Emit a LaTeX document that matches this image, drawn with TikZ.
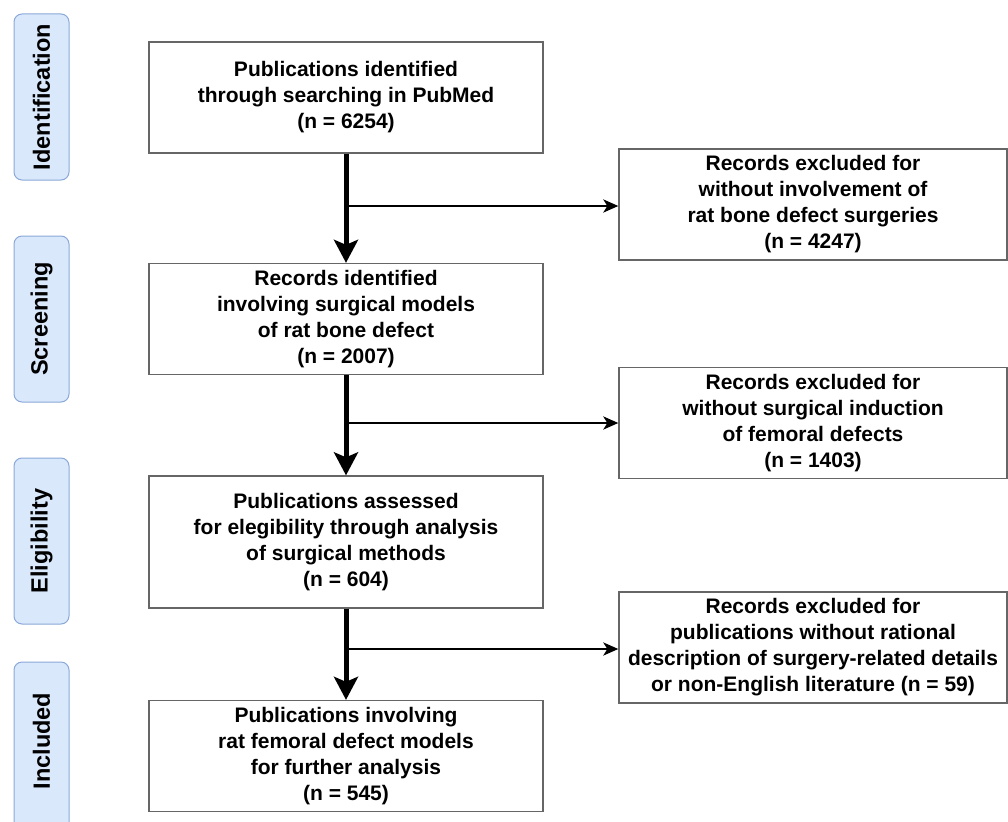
\documentclass[tikz,border=0pt]{standalone}
\usepackage{fontspec}
\setmainfont{Liberation Sans}
\usetikzlibrary{arrows.meta}
\definecolor{barfill}{HTML}{DAE8FC}
\definecolor{bardraw}{HTML}{8AA8D8}
\definecolor{boxdraw}{HTML}{666666}
\tikzset{
  phase/.style={draw=bardraw, fill=barfill, line width=1pt, rounded corners=8pt},
  phaselabel/.style={rotate=90, font=\fontsize{23.5}{26}\selectfont\bfseries},
  flowbox/.style={draw=boxdraw, line width=1.3pt, align=center, inner sep=0pt, font=\fontsize{21}{26}\selectfont\bfseries},
  mainarrow/.style={line width=5pt, -{Stealth[length=23pt, width=24pt, inset=5pt]}},
  sidearrow/.style={line width=2.5pt, -{Stealth[length=15pt, width=13pt, inset=4pt]}}
}
\begin{document}
\begin{tikzpicture}[x=1pt, y=-1pt]
\useasboundingbox (0,0) rectangle (1008,821);
% phase bars
\draw[phase] (14,14) rectangle (69,180);
\node[phaselabel] (lid) at (41.5,97) {Identification};
\draw[phase] (14,236) rectangle (69,402);
\node[phaselabel] (lsc) at (41.5,319) {Screening};
\draw[phase] (14,458) rectangle (69,624);
\node[phaselabel] (lel) at (41.5,541) {Eligibility};
\draw[phase] (14,662) rectangle (69,840);
\node[phaselabel] (lin) at (41.5,741) {Included};
% main boxes
\node[flowbox, minimum width=394pt, minimum height=111pt] (b1) at (346,97.5) {Publications identified\\through searching in PubMed\\(n = 6254)};
\node[flowbox, minimum width=394pt, minimum height=111pt] (b2) at (346,319) {Records identified\\involving surgical models\\of rat bone defect\\(n = 2007)};
\node[flowbox, minimum width=394pt, minimum height=132pt] (b3) at (346,542) {Publications assessed\\for elegibility through analysis\\of surgical methods\\(n = 604)};
\node[flowbox, minimum width=394pt, minimum height=111pt] (b4) at (346,756) {Publications involving\\rat femoral defect models\\for further analysis\\(n = 545)};
% side boxes
\node[flowbox, minimum width=388pt, minimum height=111pt] (r1) at (813,204.5) {Records excluded for\\without involvement of\\rat bone defect surgeries\\(n = 4247)};
\node[flowbox, minimum width=388pt, minimum height=111pt] (r2) at (813,423) {Records excluded for\\without surgical induction\\of femoral defects\\(n = 1403)};
\node[flowbox, minimum width=388pt, minimum height=111pt] (r3) at (813,647.5) {Records excluded for\\publications without rational\\description of surgery-related details\\or non-English literature (n = 59)};
% branch points
\coordinate (j1) at (346,206);
\coordinate (j2) at (346,423);
\coordinate (j3) at (346,649);
% arrows
\draw[mainarrow] (b1.south) -- (b2.north);
\draw[mainarrow] (b2.south) -- (b3.north);
\draw[mainarrow] (b3.south) -- (b4.north);
\draw[sidearrow] (j1) -- (j1 -| r1.west);
\draw[sidearrow] (j2) -- (j2 -| r2.west);
\draw[sidearrow] (j3) -- (j3 -| r3.west);
\end{tikzpicture}
\end{document}
